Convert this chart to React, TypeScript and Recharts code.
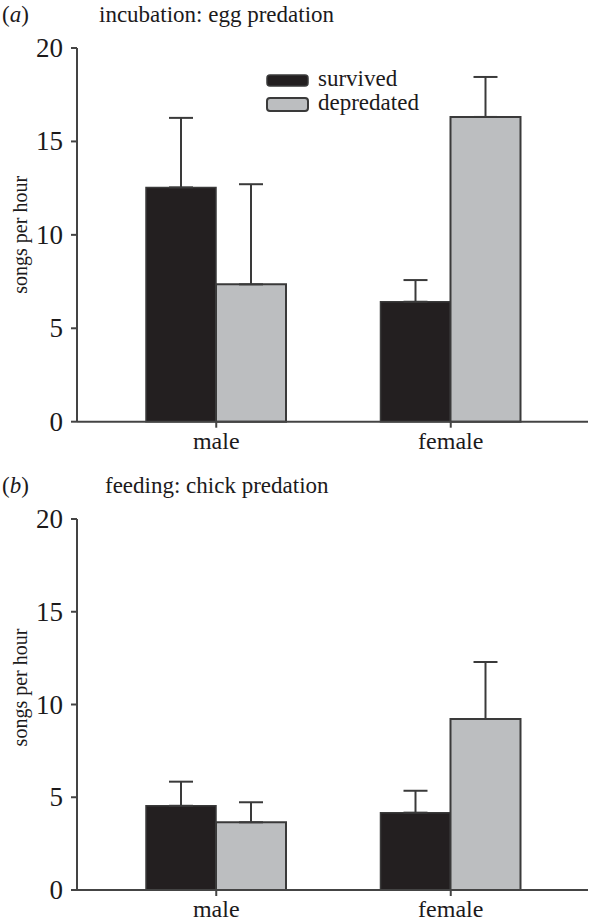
import React from "react";
import { BarChart, Bar, XAxis, YAxis, ErrorBar } from "recharts";

const categories = ["male", "female"];
const yTicks = [0, 5, 10, 15, 20];

// (a) incubation: egg predation
const incubationSurvived = [12.54, 6.42];
const incubationSurvivedSE = [3.72, 1.16];
const incubationDepredated = [7.35, 16.31];
const incubationDepredatedSE = [5.36, 2.14];

// (b) feeding: chick predation
const feedingSurvived = [4.54, 4.17];
const feedingSurvivedSE = [1.3, 1.18];
const feedingDepredated = [3.65, 9.22];
const feedingDepredatedSE = [1.08, 3.07];

const FONT = "Liberation Serif";
const INK = "#1c1a1b";
const BLACK = "#231f20";
const GREY = "#bcbec0";
const EDGE = "#3a3a3a";

const textStyle = (size: number) => ({ fontFamily: FONT, fontSize: size, fill: INK });

const buildRows = (
  survived: number[],
  survivedSE: number[],
  depredated: number[],
  depredatedSE: number[]
) =>
  categories.map((name, i) => ({
    name,
    survived: survived[i],
    survivedErr: [0, survivedSE[i]],
    depredated: depredated[i],
    depredatedErr: [0, depredatedSE[i]],
  }));

const YTick = ({ x, y, payload }: any) => (
  <text x={x} y={y} dy={9} textAnchor="end" style={textStyle(27)}>
    {payload.value}
  </text>
);

const XTick = ({ x, y, payload }: any) => (
  <text x={x} y={y} dy={17} textAnchor="middle" style={textStyle(24)}>
    {payload.value}
  </text>
);

const AxisTitle = ({ viewBox, shift }: any) => {
  const cx = 27;
  const cy = viewBox.y + viewBox.height / 2 + shift;
  return (
    <text
      x={cx}
      y={cy}
      transform={`rotate(-90 ${cx} ${cy})`}
      textAnchor="middle"
      style={textStyle(20)}
    >
      songs per hour
    </text>
  );
};

interface PanelProps {
  tag: string;
  title: string;
  titleX: number;
  baseline: number;
  rows: any[];
  height: number;
  marginTop: number;
  marginBottom: number;
  showLegend?: boolean;
}

const Panel: React.FC<PanelProps> = ({
  tag,
  title,
  titleX,
  baseline,
  rows,
  height,
  marginTop,
  marginBottom,
  showLegend = false,
}) => {
  const labelShift = showLegend ? 0 : -17;
  return (
    <div style={{ position: "relative", width: 590, height }}>
      <BarChart
        width={590}
        height={height}
        data={rows}
        margin={{ top: marginTop, right: 2, bottom: marginBottom, left: 0 }}
        barGap={0}
        barSize={70}
      >
        <XAxis
          dataKey="name"
          height={30}
          padding={{ left: 22, right: 20 }}
          axisLine={{ stroke: "#444", strokeWidth: 2 }}
          tickLine={{ stroke: "#444", strokeWidth: 2 }}
          tickSize={6}
          tickMargin={4}
          tick={<XTick />}
        />
        <YAxis
          width={77}
          domain={[0, 20]}
          ticks={yTicks}
          interval={0}
          axisLine={{ stroke: "#444", strokeWidth: 2 }}
          tickLine={{ stroke: "#444", strokeWidth: 2 }}
          tickSize={6}
          tickMargin={8}
          tick={<YTick />}
          label={(props: any) => <AxisTitle {...props} shift={labelShift} />}
        />
        <Bar dataKey="survived" fill={BLACK} stroke={EDGE} strokeWidth={1.5} isAnimationActive={false}>
          <ErrorBar dataKey="survivedErr" direction="y" width={12} stroke={EDGE} strokeWidth={2} isAnimationActive={false} />
        </Bar>
        <Bar dataKey="depredated" fill={GREY} stroke={EDGE} strokeWidth={2} isAnimationActive={false}>
          <ErrorBar dataKey="depredatedErr" direction="y" width={12} stroke={EDGE} strokeWidth={2} isAnimationActive={false} />
        </Bar>
      </BarChart>
      <svg
        width={590}
        height={130}
        style={{ position: "absolute", left: 0, top: 0, pointerEvents: "none" }}
      >
        <text x={2} y={baseline} style={textStyle(23)}>
          (<tspan fontStyle="italic">{tag}</tspan>)
        </text>
        <text x={titleX} y={baseline} style={textStyle(23)}>
          {title}
        </text>
        {showLegend && (
          <g>
            <rect x={267} y={75} width={41} height={11} rx={3} fill={BLACK} stroke={EDGE} strokeWidth={1.5} />
            <rect x={267} y={98} width={41} height={13} rx={3} fill={GREY} stroke={EDGE} strokeWidth={2} />
            <text x={318} y={86} style={textStyle(23)}>survived</text>
            <text x={318} y={109.5} style={textStyle(23)}>depredated</text>
          </g>
        )}
      </svg>
    </div>
  );
};

export default function App() {
  const incubationRows = buildRows(
    incubationSurvived,
    incubationSurvivedSE,
    incubationDepredated,
    incubationDepredatedSE
  );
  const feedingRows = buildRows(
    feedingSurvived,
    feedingSurvivedSE,
    feedingDepredated,
    feedingDepredatedSE
  );

  return (
    <div style={{ position: "absolute", left: 0, top: 0, width: 590, height: 924, background: "#fff" }}>
      <Panel
        tag="a"
        title="incubation: egg predation"
        titleX={99}
        baseline={22}
        rows={incubationRows}
        height={460}
        marginTop={48}
        marginBottom={8.3}
        showLegend
      />
      <Panel
        tag="b"
        title="feeding: chick predation"
        titleX={105}
        baseline={33}
        rows={feedingRows}
        height={464}
        marginTop={59}
        marginBottom={4}
      />
    </div>
  );
}
